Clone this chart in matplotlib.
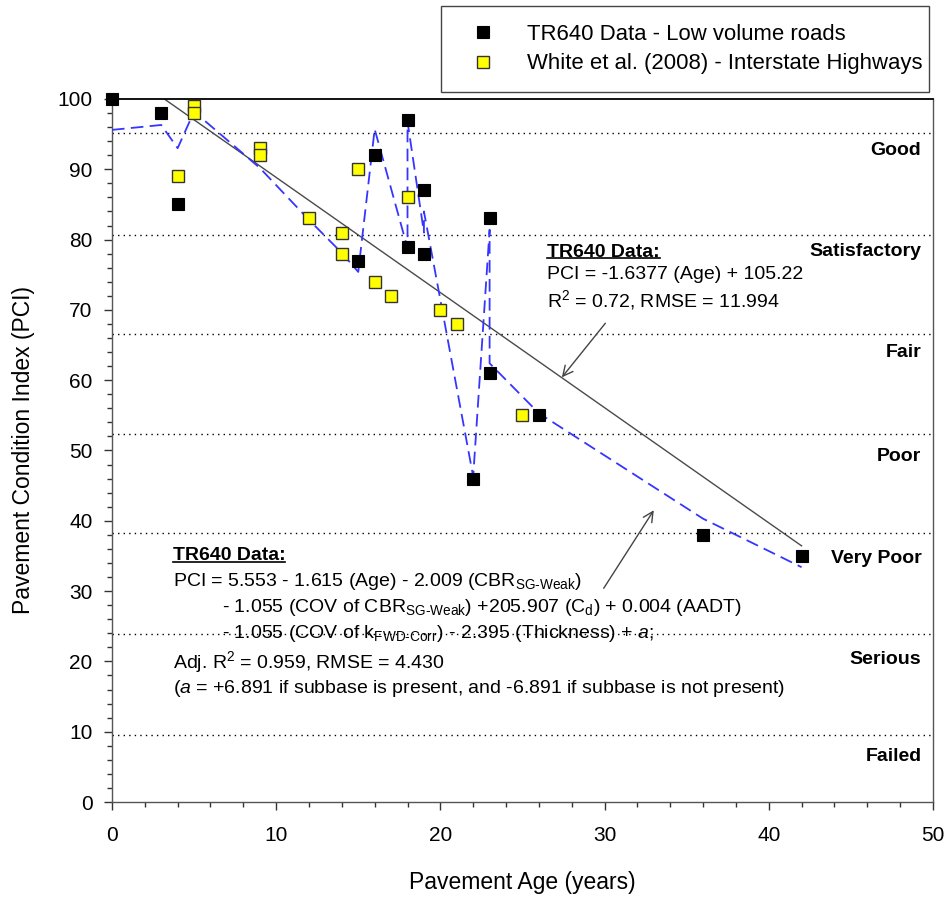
import matplotlib
matplotlib.use("Agg")
import matplotlib.pyplot as plt
from matplotlib.lines import Line2D
from matplotlib.ticker import MultipleLocator

plt.rcParams['font.family'] = ['Liberation Sans', 'DejaVu Sans']
plt.rcParams['mathtext.fontset'] = 'custom'
plt.rcParams['mathtext.rm'] = 'Liberation Sans'
plt.rcParams['mathtext.it'] = 'Liberation Sans:italic'
plt.rcParams['mathtext.bf'] = 'Liberation Sans:bold'

# ---------------- data ----------------
tr640_age = [0, 3, 4, 15, 16, 18, 18, 19, 19, 22, 23, 23, 26, 36, 42]
tr640_pci = [100, 98, 85, 77, 92, 97, 79, 87, 78, 46, 83, 61, 55, 38, 35]

white_age = [4, 5, 5, 9, 9, 12, 14, 14, 15, 16, 17, 18, 20, 21, 25]
white_pci = [89, 99, 98, 93, 92, 83, 81, 78, 90, 74, 72, 86, 70, 68, 55]

model_age = [0, 3, 4, 5, 9, 12, 14, 15, 16, 18, 18, 19, 19, 22, 23, 23, 26, 36, 42]
model_pci = [95.6, 96.3, 93.0, 98.2, 90.2, 82.8, 78.1, 75.4, 95.7, 78.8, 96.8,
             81.0, 84.0, 46.3, 81.4, 62.4, 55.3, 40.3, 33.4]

reg_slope = -1.6377
reg_intercept = 105.22
reg_age = [3.19, 42]

rating_bounds = [95.1, 80.6, 66.6, 52.4, 38.2, 23.9, 9.5]
rating_labels = ["Good", "Satisfactory", "Fair", "Poor", "Very Poor", "Serious", "Failed"]
rating_label_pci = [92.7, 78.3, 63.9, 49.1, 34.7, 20.3, 6.5]

x_ticks = [0, 10, 20, 30, 40, 50]
y_ticks = [0, 10, 20, 30, 40, 50, 60, 70, 80, 90, 100]

# ---------------- figure ----------------
fig = plt.figure(figsize=(9.48, 8.98), dpi=100)
ax = fig.add_axes([0.1181, 0.1069, 0.8660, 0.7829])

for b in rating_bounds:
    ax.axhline(b, color='black', lw=1.0, ls=(0, (1, 3)), zorder=1)

reg_pci = [reg_slope * a + reg_intercept for a in reg_age]
ax.plot(reg_age, reg_pci, color='#4a4a4a', lw=1.0, zorder=2)

ax.plot(model_age, model_pci, color='#3535ff', lw=1.3, dashes=(7, 3.5), zorder=3)

ax.plot(tr640_age, tr640_pci, ls='none', marker='s', ms=8.5, mfc='black',
        mec='black', mew=0.8, zorder=5, clip_on=False,
        label='TR640 Data - Low volume roads')
ax.plot(white_age, white_pci, ls='none', marker='s', ms=8.5, mfc='#ffff00',
        mec='#333333', mew=1.0, zorder=4, clip_on=False,
        label='White et al. (2008) - Interstate Highways')

for lab, yv in zip(rating_labels, rating_label_pci):
    ax.text(49.3, yv, lab, ha='right', va='center', fontsize=14,
            fontweight='bold', color='black')

ax.set_xlim(0, 50)
ax.set_ylim(0, 100)
ax.set_xticks(x_ticks)
ax.set_yticks(y_ticks)
ax.xaxis.set_minor_locator(MultipleLocator(2))
ax.yaxis.set_minor_locator(MultipleLocator(2))
ax.tick_params(which='major', direction='out', length=6, width=1.0,
               labelsize=15, pad=8, colors='#333333', labelcolor='black')
ax.tick_params(axis='x', which='major', pad=11)
ax.tick_params(which='minor', direction='out', length=3.5, width=1.0,
               colors='#333333')
for s in ['left', 'bottom', 'right']:
    ax.spines[s].set_color('#555555')
    ax.spines[s].set_linewidth(1.0)
ax.spines['top'].set_color('black')
ax.spines['top'].set_linewidth(1.3)

ax.set_xlabel('Pavement Age (years)', fontsize=16.5, labelpad=19)
ax.set_ylabel('Pavement Condition Index (PCI)', fontsize=16.5, labelpad=16)

# annotation 1
t1 = ax.text(26.5, 78.2, 'TR640 Data:', fontsize=14, fontweight='bold',
             ha='left', va='center')
ax.text(26.5, 75.0, 'PCI = -1.6377 (Age) + 105.22', fontsize=14, ha='left', va='center')
ax.text(26.5, 71.4, r'R$^{2}$ = 0.72, RMSE = 11.994', fontsize=14, ha='left', va='center')
ax.annotate('', xy=(27.4, 60.4), xytext=(30.05, 68.1),
            arrowprops=dict(arrowstyle='->', color='#444444', lw=1.0,
                            mutation_scale=18, shrinkA=0, shrinkB=0))

# annotation 2
x2 = 3.7
x2i = 6.7
t2 = ax.text(x2, 35.0, 'TR640 Data:', fontsize=14, fontweight='bold',
             ha='left', va='center')
ax.text(x2, 31.4, r'PCI = 5.553 - 1.615 (Age) - 2.009 (CBR$_{\text{SG-Weak}}$)',
        fontsize=14, ha='left', va='center')
ax.text(x2i, 27.7, r'- 1.055 (COV of CBR$_{\text{SG-Weak}}$) +205.907 (C$_{\text{d}}$) + 0.004 (AADT)',
        fontsize=14, ha='left', va='center')
ax.text(x2i, 24.0, r'- 1.055 (COV of k$_{\text{FWD-Corr}}$) - 2.395 (Thickness) + $a$;',
        fontsize=14, ha='left', va='center')
ax.text(x2, 19.9, r'Adj. R$^{2}$ = 0.959, RMSE = 4.430', fontsize=14, ha='left', va='center')
ax.text(x2, 16.2, r'($a$ = +6.891 if subbase is present, and -6.891 if subbase is not present)',
        fontsize=14, ha='left', va='center')
ax.annotate('', xy=(33.0, 41.5), xytext=(29.95, 30.4),
            arrowprops=dict(arrowstyle='->', color='#444444', lw=1.0,
                            mutation_scale=18, shrinkA=0, shrinkB=0))

# legend
leg = ax.legend(loc='upper left', bbox_to_anchor=(0.465, 0.899, 0.515, 0.094),
                bbox_transform=fig.transFigure, mode='expand', fontsize=15.9,
                frameon=True, fancybox=False, edgecolor='#444444',
                framealpha=1, borderpad=0.78, handlelength=2.25,
                handletextpad=0.85, labelspacing=0.4, borderaxespad=0,
                markerscale=0.95)
leg.get_frame().set_linewidth(1.0)

# underline the bold titles
fig.canvas.draw()
inv = fig.transFigure.inverted()
for t in (t1, t2):
    bb = t.get_window_extent()
    (fx0, fy0) = inv.transform((bb.x0, bb.y0 + 2.5))
    (fx1, _) = inv.transform((bb.x1, bb.y0))
    fig.add_artist(Line2D([fx0, fx1], [fy0, fy0], transform=fig.transFigure,
                          color='black', lw=1.2))

fig.savefig('out.png', dpi=100)
